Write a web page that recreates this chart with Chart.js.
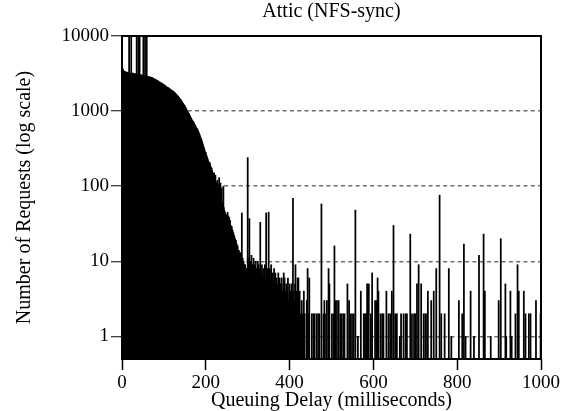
<!DOCTYPE html>
<html><head><meta charset="utf-8">
<script src="https://cdn.jsdelivr.net/npm/chart.js@4/dist/chart.umd.min.js"></script>
<style>html,body{margin:0;padding:0;background:#fff;}</style>
</head><body>
<canvas id="c" width="571" height="411"></canvas>
<script>
const chartTitle = "Attic (NFS-sync)";
const xAxisTitle = "Queuing Delay (milliseconds)";
const yAxisTitle = "Number of Requests (log scale)";
const xTickValues = [0, 200, 400, 600, 800, 1000];
const yTickValues = [1, 10, 100, 1000, 10000];

// Requests per 1 ms delay bin, delays 0..429 ms
const countsHead = [
  3720, 3760, 3610, 3480, 3420, 3390, 3330, 3290, 3360, 3270,
  3250, 3310, 3230, 3190, 3260, 3170, 3230, 13500, 3140, 3210,
  3180, 3120, 11800, 3200, 3150, 3090, 3210, 3130, 3060, 3170,
  3110, 3040, 3150, 3080, 3020, 12800, 3100, 3030, 2990, 15200,
  3060, 2980, 11200, 3040, 2970, 3010, 2950, 3030, 2940, 2990,
  2920, 13900, 2960, 2880, 2940, 12100, 2900, 2860, 2930, 10800,
  2880, 2840, 2900, 2820, 2870, 2800, 2850, 2780, 2830, 2760,
  2810, 2740, 2790, 2700, 2750, 2660, 2700, 2620, 2670, 2580,
  2630, 2560, 2600, 2510, 2550, 2470, 2520, 2430, 2470, 2390,
  2440, 2380, 2410, 2340, 2370, 2310, 2330, 2270, 2290, 2230,
  2250, 2180, 2210, 2140, 2160, 2100, 2120, 2060, 2080, 2020,
  2060, 2000, 2020, 1960, 1980, 1920, 1940, 1880, 1900, 1850,
  1870, 1830, 1850, 1790, 1800, 1740, 1760, 1700, 1710, 1650,
  1670, 1610, 1620, 1560, 1570, 1510, 1520, 1460, 1460, 1410,
  1420, 1370, 1370, 1320, 1310, 1270, 1260, 1220, 1210, 1160,
  1180, 1120, 1110, 1070, 1050, 1020, 990, 970, 940, 910,
  930, 880, 870, 840, 820, 800, 780, 760, 740, 720,
  730, 700, 690, 670, 650, 640, 620, 600, 590, 570,
  580, 550, 540, 520, 500, 490, 470, 450, 440, 420,
  410, 390, 380, 360, 345, 330, 320, 305, 290, 280,
  280, 260, 255, 240, 235, 225, 215, 210, 200, 195,
  205, 185, 180, 170, 175, 160, 155, 150, 145, 140,
  150, 130, 125, 140, 115, 110, 105, 98, 120, 90,
  105, 85, 130, 80, 75, 110, 70, 66, 95, 60,
  58, 55, 100, 52, 48, 46, 44, 42, 40, 38,
  42, 36, 45, 34, 40, 32, 38, 30, 35, 28,
  30, 27, 29, 24, 26, 22, 24, 21, 22, 19,
  20, 18, 19, 16, 17, 15, 16, 14, 13, 14,
  13, 12, 11, 13, 10, 12, 44, 5, 11, 8,
  10, 8, 9, 4, 9, 6, 8, 7, 6, 8,
  240, 9, 6, 11, 37, 8, 5, 10, 7, 12,
  4, 9, 3, 8, 11, 6, 2, 9, 7, 10,
  5, 8, 1, 7, 10, 4, 9, 6, 3, 8,
  33, 5, 7, 2, 9, 6, 4, 8, 1, 7,
  5, 9, 3, 6, 44, 4, 7, 2, 8, 5,
  45, 3, 6, 8, 2, 5, 9, 1, 6, 4,
  7, 2, 5, 8, 3, 1, 7, 4, 2, 6,
  5, 1, 4, 7, 3, 2, 6, 4, 1, 5,
  3, 6, 2, 4, 1, 5, 7, 2, 6, 1,
  4, 3, 5, 1, 2, 4, 6, 2, 3, 1,
  5, 3, 2, 4, 1, 5, 2, 3, 69, 4,
  2, 1, 3, 5, 9, 2, 4, 1, 3, 6,
  2, 6, 1, 3, 4, 2, 0, 1, 2, 3
];

// Non-empty bins beyond 429 ms: delay (ms) and request count
const tailDelays = [
  430, 434, 436, 441, 443, 445, 447, 453, 457, 459, 464, 468, 471, 476, 481, 483, 487, 489, 493, 495,
  501, 505, 507, 509, 513, 517, 521, 524, 528, 531, 538, 542, 545, 549, 553, 557, 563, 570, 577, 580,
  583, 585, 589, 594, 597, 604, 608, 610, 612, 617, 621, 624, 631, 636, 640, 644, 648, 652, 656, 663,
  666, 672, 677, 680, 688, 692, 697, 700, 704, 708, 714, 720, 724, 728, 730, 738, 744, 750, 758, 762,
  770, 780, 786, 804, 812, 816, 820, 832, 840, 852, 863, 866, 880, 899, 904, 915, 917, 927, 930, 939,
  944, 947, 959, 963, 971, 975, 988, 999
];
const tailCounts = [
  2, 4, 2, 3, 8, 2, 6, 2, 2, 2, 2, 2, 2, 58, 2, 3, 2, 3, 8, 5,
  2, 2, 16, 3, 3, 3, 2, 2, 2, 2, 5, 3, 2, 2, 2, 48, 1, 4, 2, 2,
  2, 5, 5, 2, 7, 3, 3, 6, 4, 2, 2, 2, 4, 2, 2, 4, 30, 2, 2, 1,
  2, 2, 2, 2, 23, 2, 2, 2, 5, 9, 5, 2, 2, 2, 4, 3, 4, 8, 76, 2,
  2, 8, 1, 3, 2, 17, 1, 4, 1, 12, 23, 4, 1, 3, 20, 5, 1, 4, 1, 2,
  9, 4, 4, 2, 2, 2, 3, 2
];

const points = [];
countsHead.forEach((v, i) => { if (v > 0) points.push({ x: i, y: v }); });
tailDelays.forEach((d, i) => points.push({ x: d, y: tailCounts[i] }));

const serif = 'Liberation Serif';

const frame = {
  id: 'frame',
  afterDatasetsDraw(chart) {
    const { ctx, chartArea: a } = chart;
    ctx.save();
    ctx.strokeStyle = '#000';
    ctx.lineWidth = 2;
    ctx.strokeRect(a.left, a.top, a.right - a.left, a.bottom - a.top);
    ctx.restore();
  }
};

new Chart(document.getElementById('c'), {
  type: 'bar',
  data: { datasets: [{ data: points, backgroundColor: '#000', borderWidth: 0, barThickness: 1.1 }] },
  options: {
    responsive: false, animation: false, devicePixelRatio: 1,
    layout: { padding: { left: 0, right: 30, top: 0, bottom: 0 } },
    plugins: {
      legend: { display: false }, tooltip: { enabled: false },
      title: { display: true, fullSize: false, text: chartTitle, color: '#000',
        font: { family: serif, size: 20, weight: 'normal' }, padding: { top: 0, bottom: 12 } }
    },
    scales: {
      x: {
        type: 'linear', min: 0, max: 1000, offset: false,
        afterBuildTicks: s => { s.ticks = xTickValues.map(v => ({ value: v })); },
        afterFit: s => { s.height = 52; s.paddingLeft = 0; s.paddingRight = 0; },
        grid: { offset: false, drawOnChartArea: false, drawTicks: true, tickLength: 11,
          tickColor: '#000', tickWidth: 1.5, color: '#000' },
        border: { display: false },
        ticks: { color: '#000', font: { family: serif, size: 19 }, padding: 2, maxRotation: 0,
          autoSkip: false, callback: v => String(v) },
        title: { display: true, text: xAxisTitle, color: '#000',
          font: { family: serif, size: 20 }, padding: { top: 0, bottom: -2 } }
      },
      y: {
        type: 'logarithmic', min: 0.5, max: 10000,
        afterBuildTicks: s => { s.ticks = yTickValues.map(v => ({ value: v })); },
        afterFit: s => { s.width = 122; s.paddingTop = 0; s.paddingBottom = 0; },
        grid: { color: c => (c.tick && c.tick.value === 10000) ? 'rgba(0,0,0,0)' : '#6e6e6e',
          lineWidth: 1.5, tickLength: 11, tickColor: '#000', tickWidth: 1, tickBorderDash: [] },
        border: { display: false, dash: [4, 3.3] },
        ticks: { color: '#000', font: { family: serif, size: 19 }, padding: 2, autoSkip: false,
          callback: v => String(v) },
        title: { display: true, text: yAxisTitle, color: '#000',
          font: { family: serif, size: 20 }, padding: { top: 13, bottom: 0 } }
      }
    }
  },
  plugins: [frame]
});
</script>
</body></html>
